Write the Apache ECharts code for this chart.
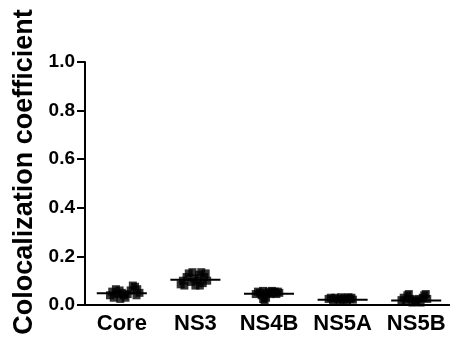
<!DOCTYPE html>
<html>
<head>
<meta charset="utf-8">
<script src="https://cdn.jsdelivr.net/npm/echarts@6/dist/echarts.min.js"></script>
<style>
    html, body { margin: 0; padding: 0; background: #fff; }
    #chart { width: 450px; height: 341px; }
</style>
</head>
<body>
<div id="chart"></div>
<script>
// categories and medians
const categories = ['Core', 'NS3', 'NS4B', 'NS5A', 'NS5B'];
const medians = [0.048, 0.104, 0.046, 0.022, 0.019];

// points per group: [jitter offset from category centre, value]
const corePts = [[-0.16, 0.04], [-0.13, 0.055], [-0.11, 0.03], [-0.08, 0.065], [-0.06, 0.045], [-0.03, 0.06],
    [-0.02, 0.025], [0.0, 0.05], [0.03, 0.04], [0.05, 0.03], [0.08, 0.045], [0.12, 0.06], [0.15, 0.08],
    [0.18, 0.075], [0.21, 0.065], [0.24, 0.05], [0.2, 0.04]];
const ns3Pts = [[-0.2, 0.085], [-0.17, 0.1], [-0.15, 0.08], [-0.12, 0.115], [-0.09, 0.13], [-0.06, 0.095],
    [-0.04, 0.135], [-0.02, 0.11], [0.0, 0.08], [0.03, 0.1], [0.05, 0.125], [0.08, 0.135], [0.1, 0.09],
    [0.12, 0.115], [0.14, 0.13], [0.16, 0.1], [0.06, 0.08]];
const ns4bPts = [[-0.18, 0.045], [-0.15, 0.055], [-0.12, 0.05], [-0.1, 0.04], [-0.08, 0.058], [-0.08, 0.025],
    [-0.06, 0.015], [-0.04, 0.03], [-0.02, 0.05], [0, 0.055], [0.02, 0.045], [0.04, 0.058], [0.06, 0.05],
    [0.08, 0.055], [0.1, 0.045], [0.12, 0.055], [0.14, 0.05]];
const ns5aPts = [[-0.19, 0.025], [-0.16, 0.03], [-0.13, 0.02], [-0.1, 0.03], [-0.07, 0.025], [-0.04, 0.018],
    [-0.02, 0.032], [0, 0.022], [0.03, 0.028], [0.06, 0.02], [0.08, 0.032], [0.1, 0.025], [0.12, 0.03], [0.14, 0.022]];
const ns5bPts = [[-0.2, 0.02], [-0.17, 0.03], [-0.14, 0.015], [-0.12, 0.04], [-0.1, 0.045], [-0.08, 0.025],
    [-0.05, 0.01], [-0.02, 0.02], [0, 0.015], [0.03, 0.025], [0.06, 0.01], [0.09, 0.03], [0.11, 0.04],
    [0.13, 0.045], [0.15, 0.025]];

const groups = [corePts, ns3Pts, ns4bPts, ns5aPts, ns5bPts];
const medianHalfWidth = 0.34;

const chart = echarts.init(document.getElementById('chart'));

const series = [];
groups.forEach((pts, i) => {
    series.push({
        type: 'scatter',
        xAxisIndex: 1,
        symbol: 'rect',
        symbolSize: 8,
        itemStyle: { color: '#000' },
        data: pts.map(p => [i + p[0], p[1]]),
        silent: true
    });
    // median line
    series.push({
        type: 'line',
        xAxisIndex: 1,
        symbol: 'none',
        lineStyle: { color: '#000', width: 2 },
        data: [[i - medianHalfWidth, medians[i]], [i + medianHalfWidth, medians[i]]],
        silent: true
    });
});

const option = {
    animation: false,
    grid: { left: 85, right: -3, top: 62, bottom: 36, outerBoundsMode: 'none', containLabel: false },
    xAxis: [{
        type: 'category',
        data: categories,
        axisLine: { lineStyle: { color: '#000', width: 2 } },
        axisTick: { alignWithLabel: true, length: 7, lineStyle: { color: '#000', width: 2 } },
        axisLabel: {
            color: '#000', fontFamily: 'Liberation Sans', fontWeight: 'bold', fontSize: 22, margin: 8,
            interval: 0, hideOverlap: false
        }
    }, {
        type: 'value',
        min: -0.5,
        max: 4.5,
        show: false
    }],
    yAxis: {
        type: 'value',
        min: 0,
        max: 1,
        interval: 0.2,
        splitLine: { show: false },
        axisLine: { show: true, onZero: false, lineStyle: { color: '#000', width: 2 } },
        axisTick: { show: true, length: 8, lineStyle: { color: '#000', width: 2 } },
        axisLabel: {
            color: '#000', fontFamily: 'Liberation Sans', fontWeight: 'bold', fontSize: 19, margin: 10,
            formatter: v => v.toFixed(1)
        },
        name: 'Colocalization coefficient',
        nameLocation: 'middle',
        nameGap: 46,
        nameTextStyle: {
            color: '#000', fontFamily: 'Liberation Sans', fontWeight: 'bold', fontSize: 27,
            padding: [0, 0, 0, 23]
        }
    },
    series: series
};

chart.setOption(option);
</script>
</body>
</html>
